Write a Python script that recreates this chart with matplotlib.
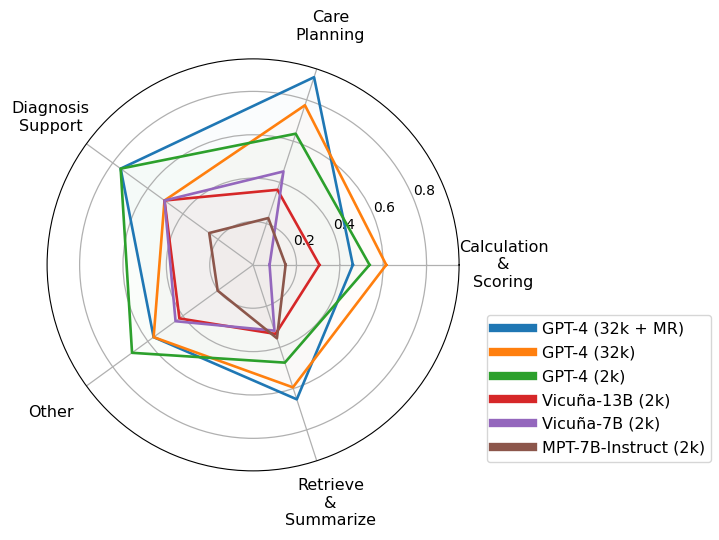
import numpy as np
import matplotlib
matplotlib.use('Agg')
import matplotlib.pyplot as plt
from matplotlib.lines import Line2D

# Categories (counter-clockwise from 0 deg)
categories = ['Calculation\n&\nScoring', 'Care\nPlanning', 'Diagnosis\nSupport',
              'Other', 'Retrieve\n&\nSummarize']

# Scores per model, same order as categories
models = ['GPT-4 (32k + MR)', 'GPT-4 (32k)', 'GPT-4 (2k)',
          'Vicuña-13B (2k)', 'Vicuña-7B (2k)', 'MPT-7B-Instruct (2k)']
gpt4_32k_mr = [0.46, 0.91, 0.755, 0.567, 0.652]
gpt4_32k = [0.614, 0.774, 0.505, 0.567, 0.594]
gpt4_2k = [0.537, 0.636, 0.755, 0.69, 0.474]
vicuna_13b = [0.306, 0.364, 0.505, 0.42, 0.335]
vicuna_7b = [0.076, 0.453, 0.505, 0.442, 0.319]
mpt_7b = [0.15, 0.227, 0.25, 0.202, 0.356]
scores = [gpt4_32k_mr, gpt4_32k, gpt4_2k, vicuna_13b, vicuna_7b, mpt_7b]
colors = ['#1f77b4', '#ff7f0e', '#2ca02c', '#d62728', '#9467bd', '#8c564b']

angles = np.linspace(0, 2 * np.pi, len(categories), endpoint=False)
closed = np.concatenate([angles, angles[:1]])

fig = plt.figure(figsize=(7.19, 5.4), dpi=100)
ax = fig.add_axes([0.0655, 0.128, 0.573, 0.763], projection='polar')

for vals, c in zip(scores, colors):
    v = np.concatenate([vals, vals[:1]])
    ax.plot(closed, v, color=c, linewidth=1.9)
    ax.fill(closed, v, color=c, alpha=0.018)

ax.set_ylim(0, 0.95)
ax.set_yticks([0.2, 0.4, 0.6, 0.8])
ax.set_yticklabels(['0.2', '0.4', '0.6', '0.8'], fontsize=10)
ax.set_xticks(angles)
ax.set_xticklabels(categories, fontsize=11.5)
ax.tick_params(axis='x', pad=21.5)
ax.grid(color='#b0b0b0', linewidth=0.9)

handles = [Line2D([0], [0], color=c, linewidth=6) for c in colors]
fig.legend(handles, models, loc='upper left', bbox_to_anchor=(0.677, 0.417),
           borderaxespad=0, fontsize=11.5, handlelength=2.5, handletextpad=0.55,
           borderpad=0.4, labelspacing=0.56)

fig.savefig('out.png', dpi=100)
